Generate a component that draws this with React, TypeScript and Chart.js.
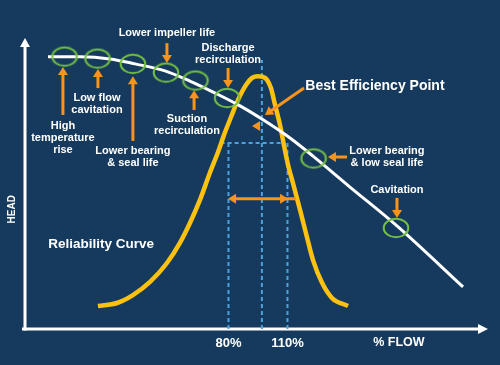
import React, { useEffect, useRef } from "react";
import { Chart, registerables } from "chart.js";

Chart.register(...registerables);

// ---- Data (x = % flow, y = head, schematic units) ----
const headFlow = [-11.8, 4.5, 19.7, 32.5, 47.7, 60.4, 73.2, 85.9, 98.6, 111.3, 123.0, 141.8, 165.7, 199.3];
const headValues = [93.2, 93.2, 92.5, 90.8, 88.4, 84.9, 80.8, 76.4, 71.2, 65.4, 59.2, 48.6, 35.3, 14.4];

const reliabilityFlow = [13.6, 23.3, 31.4, 40.1, 48.7, 55.3, 60.4, 65.5, 70.6, 74.7, 77.7, 81.3, 84.8, 88.9, 92.0, 95.0, 98.6, 101.6, 103.7, 106.2, 108.2, 110.3, 112.8, 116.4, 119.9, 123.0, 127.6, 132.7, 140.8];
const reliabilityValues = [7.9, 8.9, 11.6, 16.1, 22.6, 29.5, 36.3, 44.2, 53.6, 60.6, 66.4, 72.6, 78.4, 83.6, 86.0, 86.6, 86.0, 82.5, 76.7, 69.9, 63.0, 56.2, 50.0, 40.8, 31.5, 23.6, 15.8, 10.6, 7.9];

// Problem zones marked on the head curve
const zoneFlow = [-3.4, 13.4, 31.4, 48.2, 63.2, 79.3, 123.3, 165.2];
const zoneHead = [93.3, 92.6, 90.8, 87.8, 85.1, 79.1, 58.4, 34.6];

// Operating window
const flowTicks = [80, 110];
const flowTickLabels = ["80%", "110%"];
const bepFlow = 97;
const bepTopHead = 92.1;
const windowHead = 63.7;
const windowLineFlow = [76, 108];
const windowArrowHead = 44.6;

// Axis ranges
const flowMin = -24;
const flowMax = 212;
const headMin = 0;
const headMax = 100;

// Annotation labels: text lines + anchor (flow, head of first line)
const labels = [
  { lines: ["Lower impeller life"], x: 48.7, y: 101.4, size: 11 },
  { lines: ["Discharge", "recirculation"], x: 79.8, y: 96.2, size: 11 },
  { lines: ["Low flow", "cavitation"], x: 13.1, y: 79.1, size: 11 },
  { lines: ["High", "temperature", "rise"], x: -4.2, y: 69.5, size: 11 },
  { lines: ["Lower bearing", "& seal life"], x: 31.4, y: 61.0, size: 11 },
  { lines: ["Suction", "recirculation"], x: 58.9, y: 71.9, size: 11 },
  { lines: ["Best Efficiency Point"], x: 154.5, y: 83.2, size: 14 },
  { lines: ["Lower bearing", "& low seal life"], x: 160.6, y: 61.0, size: 11 },
  { lines: ["Cavitation"], x: 165.7, y: 47.6, size: 11 },
  { lines: ["Reliability Curve"], x: 15.2, y: 29.1, size: 13.5 },
];

// Callout arrows: from (x1,y1) to tip (x2,y2)
const arrows = [
  { x1: 48.7, y1: 97.9, x2: 48.7, y2: 91.1 },
  { x1: 79.8, y1: 89.4, x2: 79.8, y2: 82.5 },
  { x1: -4.2, y1: 73.3, x2: -4.2, y2: 89.7 },
  { x1: 13.6, y1: 82.5, x2: 13.6, y2: 89.0 },
  { x1: 31.4, y1: 64.4, x2: 31.4, y2: 86.6 },
  { x1: 62.5, y1: 75.0, x2: 62.5, y2: 81.8 },
  { x1: 118.4, y1: 82.5, x2: 98.6, y2: 73.3 },
  { x1: 140.3, y1: 58.9, x2: 130.6, y2: 58.9 },
  { x1: 165.7, y1: 44.9, x2: 165.7, y2: 38.0 },
  { x1: 97.1, y1: 69.5, x2: 92.0, y2: 69.5, headOnly: true },
  { x1: 110.3, y1: windowArrowHead, x2: 79.8, y2: windowArrowHead, both: true },
];

const BG = "#163a5e";
const WHITE = "#ffffff";
const YELLOW = "#fdc20f";
const ORANGE = "#f7941d";
const GREEN = "#74bf44";
const BLUE = "#4ca2dd";
const FONT = "'Liberation Sans', Arial, sans-serif";

function drawArrow(ctx: CanvasRenderingContext2D, x1: number, y1: number, x2: number, y2: number, opts: any = {}) {
  const head = 8;
  const half = 5;
  const dx = x2 - x1;
  const dy = y2 - y1;
  const len = Math.hypot(dx, dy) || 1;
  const ux = dx / len;
  const uy = dy / len;
  const tri = (tx: number, ty: number, vx: number, vy: number) => {
    const bx = tx - vx * head;
    const by = ty - vy * head;
    ctx.beginPath();
    ctx.moveTo(tx, ty);
    ctx.lineTo(bx - vy * half, by + vx * half);
    ctx.lineTo(bx + vy * half, by - vx * half);
    ctx.closePath();
    ctx.fill();
  };
  if (!opts.headOnly) {
    const sx = opts.both ? x1 - ux * head : x1;
    const sy = opts.both ? y1 - uy * head : y1;
    ctx.beginPath();
    ctx.moveTo(sx, sy);
    ctx.lineTo(x2 - ux * (head - 1), y2 - uy * (head - 1));
    ctx.stroke();
  }
  tri(x2, y2, ux, uy);
  if (opts.both) tri(x1, y1, -ux, -uy);
}

const overlayPlugin = {
  id: "overlay",
  beforeDatasetsDraw(chart: any) {
    const ctx = chart.ctx as CanvasRenderingContext2D;
    const a = chart.chartArea;
    ctx.save();
    ctx.strokeStyle = WHITE;
    ctx.fillStyle = WHITE;
    ctx.lineWidth = 3;
    // y axis
    const ax = a.left + 1;
    ctx.beginPath();
    ctx.moveTo(ax, a.bottom + 1.5);
    ctx.lineTo(ax, a.top + 9);
    ctx.stroke();
    ctx.beginPath();
    ctx.moveTo(ax, a.top + 1);
    ctx.lineTo(ax - 5, a.top + 10);
    ctx.lineTo(ax + 5, a.top + 10);
    ctx.closePath();
    ctx.fill();
    // x axis
    ctx.beginPath();
    ctx.moveTo(a.left - 2, a.bottom);
    ctx.lineTo(a.right - 9, a.bottom);
    ctx.stroke();
    ctx.beginPath();
    ctx.moveTo(a.right, a.bottom);
    ctx.lineTo(a.right - 10, a.bottom - 5);
    ctx.lineTo(a.right - 10, a.bottom + 5);
    ctx.closePath();
    ctx.fill();
    ctx.restore();
  },
  afterDatasetsDraw(chart: any) {
    const ctx = chart.ctx as CanvasRenderingContext2D;
    const a = chart.chartArea;
    const sx = chart.scales.x;
    const sy = chart.scales.y;
    ctx.save();
    // arrows
    ctx.strokeStyle = ORANGE;
    ctx.fillStyle = ORANGE;
    ctx.lineWidth = 3;
    ctx.lineCap = "butt";
    arrows.forEach((ar: any) => {
      drawArrow(ctx, sx.getPixelForValue(ar.x1), sy.getPixelForValue(ar.y1), sx.getPixelForValue(ar.x2), sy.getPixelForValue(ar.y2), ar);
    });
    // labels
    ctx.fillStyle = WHITE;
    ctx.textAlign = "center";
    ctx.textBaseline = "middle";
    labels.forEach((l) => {
      ctx.font = `bold ${l.size}px ${FONT}`;
      const x = sx.getPixelForValue(l.x);
      const y0 = sy.getPixelForValue(l.y);
      l.lines.forEach((t, i) => ctx.fillText(t, x, y0 + i * 12));
    });
    // tick labels
    ctx.font = `bold 13px ${FONT}`;
    flowTicks.forEach((v, i) => ctx.fillText(flowTickLabels[i], sx.getPixelForValue(v), a.bottom + 14));
    ctx.font = `bold 12.5px ${FONT}`;
    ctx.fillText("% FLOW", sx.getPixelForValue(166.7), a.bottom + 14);
    // axis title
    ctx.font = `bold 10px ${FONT}`;
    ctx.translate(a.left - 12, sy.getPixelForValue(41));
    ctx.rotate(-Math.PI / 2);
    ctx.fillText("HEAD", 0, 0);
    ctx.restore();
  },
};

export default function App() {
  const ref = useRef<HTMLCanvasElement>(null);
  useEffect(() => {
    const canvas = ref.current;
    if (!canvas) return;
    const ring = document.createElement("canvas");
    ring.width = 30;
    ring.height = 24;
    const rc = ring.getContext("2d")!;
    rc.strokeStyle = GREEN;
    rc.lineWidth = 2;
    rc.beginPath();
    rc.ellipse(15, 12, 12.3, 9.3, 0, 0, Math.PI * 2);
    rc.stroke();

    const pts = (xs: number[], ys: number[]) => xs.map((x, i) => ({ x, y: ys[i] }));
    const dashed = (label: string, data: any[]) => ({
      label,
      data,
      borderColor: BLUE,
      borderWidth: 2,
      borderDash: [4, 3],
      pointRadius: 0,
      fill: false,
    });

    const chart = new Chart(canvas, {
      type: "line",
      data: {
        datasets: [
          {
            label: "Problem zones",
            data: pts(zoneFlow, zoneHead),
            showLine: false,
            pointStyle: ring as any,
            pointRadius: 10,
            borderColor: GREEN,
          },
          {
            label: "Head curve",
            data: pts(headFlow, headValues),
            borderColor: WHITE,
            borderWidth: 3,
            pointRadius: 0,
            cubicInterpolationMode: "monotone",
          },
          {
            label: "Reliability curve",
            data: pts(reliabilityFlow, reliabilityValues),
            borderColor: YELLOW,
            borderWidth: 4.5,
            pointRadius: 0,
            cubicInterpolationMode: "monotone",
          },
          dashed("80%", [{ x: flowTicks[0], y: headMin }, { x: flowTicks[0], y: windowHead }]),
          dashed("110%", [{ x: flowTicks[1], y: headMin }, { x: flowTicks[1], y: windowHead }]),
          dashed("BEP", [{ x: bepFlow, y: headMin }, { x: bepFlow, y: bepTopHead }]),
          dashed("Window", [{ x: windowLineFlow[0], y: windowHead }, { x: windowLineFlow[1], y: windowHead }]),
        ] as any,
      },
      options: {
        animation: false,
        responsive: false,
        events: [],
        layout: { padding: { left: 24, right: 12, top: 37, bottom: 36 } },
        plugins: { legend: { display: false }, tooltip: { enabled: false } },
        scales: {
          x: { type: "linear", min: flowMin, max: flowMax, display: false },
          y: { type: "linear", min: headMin, max: headMax, display: false },
        },
      },
      plugins: [overlayPlugin],
    });
    return () => chart.destroy();
  }, []);

  return (
    <div style={{ position: "fixed", left: 0, top: 0, width: 500, height: 365, background: BG }}>
      <canvas ref={ref} width={500} height={365} style={{ display: "block" }} />
    </div>
  );
}
